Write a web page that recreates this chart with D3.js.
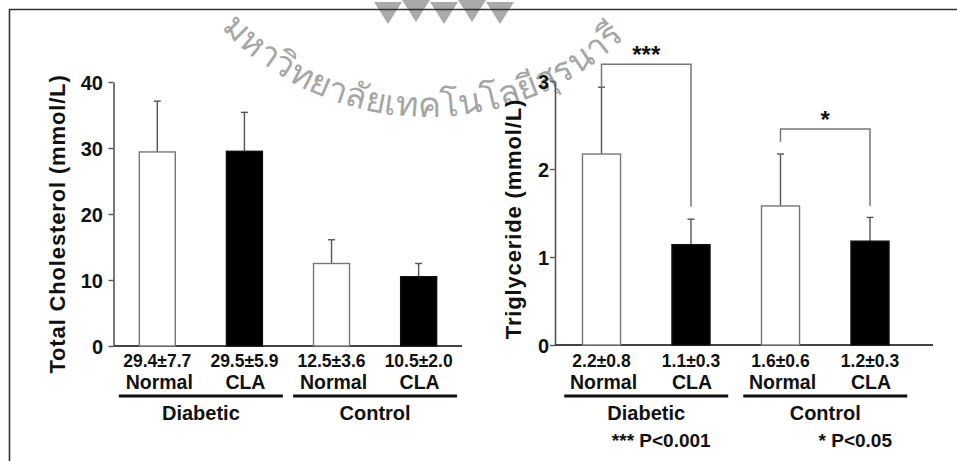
<!DOCTYPE html>
<html><head><meta charset="utf-8">
<script src="https://cdn.jsdelivr.net/npm/d3@7"></script>
<style>body{margin:0;background:#fff}svg{display:block}</style>
</head><body><svg id="c" width="957" height="461"></svg>
<script>
// ---- data ----
const groups = ["Diabetic", "Control"];
const treatments = ["Normal", "CLA", "Normal", "CLA"];
const categories = ["Diabetic-Normal", "Diabetic-CLA", "Control-Normal", "Control-CLA"];
const cholMean = [29.4, 29.5, 12.5, 10.5];
const cholSD = [7.7, 5.9, 3.6, 2.0];
const cholLabels = ["29.4±7.7", "29.5±5.9", "12.5±3.6", "10.5±2.0"];
const cholTicks = [0, 10, 20, 30, 40];
const trigMean = [2.17, 1.14, 1.58, 1.18];
const trigSD = [0.76, 0.29, 0.59, 0.27];
const trigLabels = ["2.2±0.8", "1.1±0.3", "1.6±0.6", "1.2±0.3"];
const trigTicks = [0, 1, 2, 3];
const trigBrackets = [
  {from: 0, to: 1, level: 3.19, legFrom: 2.93, legTo: 1.57, text: "***"},
  {from: 2, to: 3, level: 2.455, legFrom: 2.31, legTo: 1.58, text: "*"}
];
const pNotes = ["*** P<0.001", "* P<0.05"];
const watermark = "มหาวิทยาลัยเทคโนโลยีสุรนารี";

const svg = d3.select("#c");
const FONT = "'Liberation Sans', Arial, sans-serif";
const fillFor = t => t === "CLA" ? "#000" : "#fff";

// watermark (under the chart)
const wm = svg.append("g");
const tri = "M0,0 L14,22 L28,0 Z";
[374, 402, 430, 458, 486].forEach((tx, i) => {
  wm.append("path").attr("d", tri).attr("transform", `translate(${tx},${i % 2 ? 0 : 2})`).attr("fill", "#aaa");
});
wm.append("path").attr("id", "wmArc")
  .attr("d", "M144,-167 A284,284 0 0 0 712,-167").attr("fill", "none");
wm.append("text").attr("font-family", "'Noto Sans', 'DejaVu Sans', sans-serif").attr("font-size", 34.5)
  .attr("fill", "#a6a6a6").append("textPath").attr("href", "#wmArc").attr("startOffset", 439)
  .attr("text-anchor", "middle").text(watermark);

// frame
svg.append("path").attr("d", "M9.5,461 V9.5 H957").attr("fill", "none")
  .attr("stroke", "#333").attr("stroke-width", 1.6);

function panel(cfg) {
  const y = d3.scaleLinear().domain(cfg.domain).range(cfg.yRange);
  const x = d3.scaleBand().domain(categories).range(cfg.xRange)
    .paddingInner(cfg.pad).paddingOuter(cfg.pad / 2);
  const g = svg.append("g");

  // y axis
  const ax = g.append("g").attr("transform", `translate(${cfg.axisX},0)`)
    .call(d3.axisLeft(y).tickValues(cfg.ticks).tickSize(5).tickSizeOuter(0)
      .tickPadding(cfg.tickPad).tickFormat(d3.format("d")));
  ax.select(".domain").attr("stroke", "#555").attr("stroke-width", 1.6);
  ax.selectAll(".tick line").attr("stroke", "#555").attr("stroke-width", 1.4);
  ax.selectAll(".tick text").attr("font-family", FONT).attr("font-weight", "bold")
    .attr("font-size", 20).attr("fill", "#111").attr("dy", "0.36em");

  // x axis line
  g.append("line").attr("x1", cfg.axisX).attr("x2", cfg.axisEnd)
    .attr("y1", y(0)).attr("y2", y(0)).attr("stroke", "#444").attr("stroke-width", 1.8);

  // error bars
  const cx = i => x(categories[i]) + x.bandwidth() / 2;
  categories.forEach((c, i) => {
    const top = y(cfg.mean[i] + cfg.sd[i]);
    g.append("line").attr("x1", cx(i)).attr("x2", cx(i)).attr("y1", y(cfg.mean[i])).attr("y2", top)
      .attr("stroke", "#555").attr("stroke-width", 1.4);
    g.append("line").attr("x1", cx(i) - 3.5).attr("x2", cx(i) + 3.5).attr("y1", top).attr("y2", top)
      .attr("stroke", "#555").attr("stroke-width", 1.4);
  });

  // bars
  g.selectAll("rect.bar").data(categories).join("rect").attr("class", "bar")
    .attr("x", c => x(c)).attr("width", x.bandwidth())
    .attr("y", (c, i) => y(cfg.mean[i])).attr("height", (c, i) => y(0) - y(cfg.mean[i]))
    .attr("fill", (c, i) => fillFor(treatments[i]))
    .attr("stroke", (c, i) => treatments[i] === "CLA" ? "#111" : "#777").attr("stroke-width", 1.4);

  // labels below
  categories.forEach((c, i) => {
    g.append("text").attr("x", cx(i)).attr("y", 366.5).attr("text-anchor", "middle")
      .attr("font-family", FONT).attr("font-weight", "bold").attr("font-size", 17.5)
      .attr("fill", "#111").text(cfg.labels[i]);
    g.append("text").attr("x", cx(i) + (i % 2 === 0 ? 2 : 1)).attr("y", 389).attr("text-anchor", "middle")
      .attr("font-family", FONT).attr("font-weight", "bold").attr("font-size", 19.5)
      .attr("fill", "#111").text(treatments[i]);
  });
  groups.forEach((gr, k) => {
    const mid = (cx(2 * k) + cx(2 * k + 1)) / 2;
    g.append("line").attr("x1", mid - 82).attr("x2", mid + 82).attr("y1", 396).attr("y2", 396)
      .attr("stroke", "#111").attr("stroke-width", 3);
    g.append("text").attr("x", mid).attr("y", 420).attr("text-anchor", "middle")
      .attr("font-family", FONT).attr("font-weight", "bold").attr("font-size", 20)
      .attr("fill", "#111").text(gr);
  });

  // y title
  g.append("text").attr("transform", `translate(${cfg.titleX},${cfg.titleY}) rotate(-90)`)
    .attr("text-anchor", "middle").attr("font-family", FONT).attr("font-weight", "bold")
    .attr("font-size", 22).attr("letter-spacing", 0.85).attr("fill", "#111").text(cfg.title);

  // brackets
  (cfg.brackets || []).forEach(b => {
    const x1 = cx(b.from), x2 = cx(b.to), yl = y(b.level);
    g.append("path").attr("d", `M${x1},${y(b.legFrom)} V${yl} H${x2} V${y(b.legTo)}`)
      .attr("fill", "none").attr("stroke", "#777").attr("stroke-width", 1.5);
    g.append("text").attr("x", (x1 + x2) / 2).attr("y", yl - 1).attr("text-anchor", "middle")
      .attr("font-family", FONT).attr("font-weight", "bold").attr("font-size", 24)
      .attr("fill", "#111").text(b.text);
  });
  return {x, y, cx};
}

panel({domain: [0, 40], yRange: [346, 82], xRange: [113.75, 462.2], pad: 0.587,
  axisX: 113.5, axisEnd: 462, tickPad: 5.5, ticks: cholTicks, mean: cholMean, sd: cholSD, labels: cholLabels,
  title: "Total Cholesterol (mmol/L)", titleX: 65, titleY: 224});

const right = panel({domain: [0, 3], yRange: [345, 81], xRange: [556.75, 914.75], pad: 0.575,
  axisX: 555, axisEnd: 933, tickPad: 1, ticks: trigTicks, mean: trigMean, sd: trigSD, labels: trigLabels,
  title: "Triglyceride (mmol/L)", titleX: 521, titleY: 219, brackets: trigBrackets});

// p-value notes
[[0, 1], [2, 3]].forEach((pair, k) => {
  const mid = (right.cx(pair[0]) + right.cx(pair[1])) / 2;
  svg.append("text").attr("x", mid + (k === 0 ? 15 : 30)).attr("y", 447).attr("text-anchor", "middle")
    .attr("font-family", FONT).attr("font-weight", "bold").attr("font-size", 19)
    .attr("fill", "#111").text(pNotes[k]);
});
</script></body></html>
